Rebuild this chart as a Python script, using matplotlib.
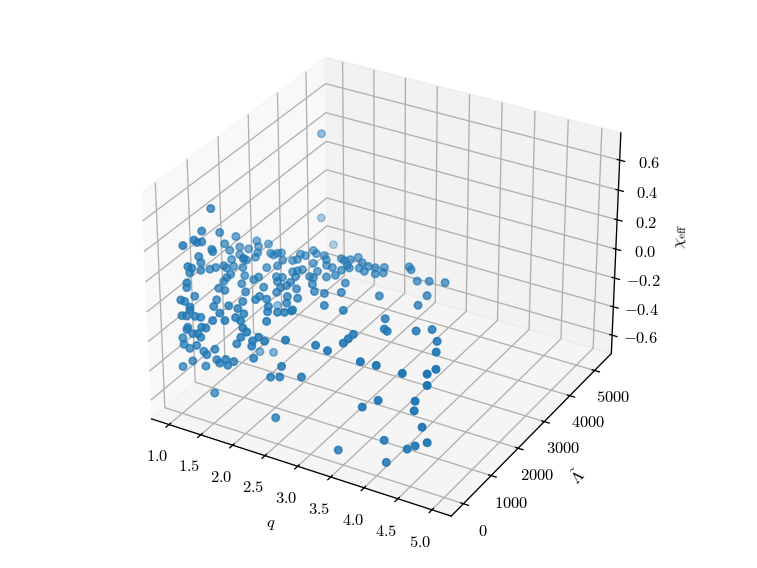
import numpy as np
import matplotlib
matplotlib.use("Agg")
import matplotlib.pyplot as plt
from matplotlib.ticker import FormatStrFormatter

q_ticks = [1.0, 1.5, 2.0, 2.5, 3.0, 3.5, 4.0, 4.5, 5.0]
lam_ticks = [0, 1000, 2000, 3000, 4000, 5000]
chi_ticks = [-0.6, -0.4, -0.2, 0.0, 0.2, 0.4, 0.6]

q = [1,1,1,1,1,1,1,1,1,1,1,1,1,1,1,1.06,1.06,1.14,1.18,1.14,1,1.06,1.12,1,1,1,1,1,1,1,1,1,1,1.06,1.18,1.46,1.56,1.54,1.30,1.36,
     1.38,1.42,1.66,1.70,1.66,1.74,1.76,1.84,1.94,2.10,1.90,1.86,1.82,1.92,2.08,2.14,2.22,2.34,2.10,1.94,1.94,1.78,1.70,1.78,1.90,1.92,1.70,1.50,1.48,1.32,1.40,1.56,1.14,1.14,1.16,1.20,1.30,1,1,
     1,1.04,1,1,1.14,1.34,1.40,1.56,1.70,1.66,1.78,1.78,1.90,2.10,2.18,2.24,2.02,2.34,1.18,1.04,1.12,1.24,1.34,1.52,1.56,1.72,1.80,1.84,1.90,2.20,2.08,2.20,2.28,2.34,1.14,1.12,1.20,1.28,1.36,
     1.42,1.32,1.04,1.06,1.26,1.16,1.36,1.42,1.54,1.98,2.04,1.96,1.88,2.14,2.12,2.22,2.32,2.64,3.06,2.14,1.20,1.02,1.40,1.56,1.62,1.72,1.84,1.74,2.58,2.40,2.54,2.88,1.52,1.96,2.04,2.12,2.22,2.20,
     2.26,2.32,2.38,2.50,2.36,2.42,2.54,2.64,2.62,2.72,2.80,2.88,2.82,3.10,3.16,3.38,3.52,3.72,3.68,3.70,3.14,2.58,2.66,2.48,2.64,2.92,3.50,3.62,3.68,4.00,4.16,4.36,3.34,3.34,2.36,2.36,2.28,3.26,3.34,
     3.76,3.98,4.36,4.64,4.68,4.72,4.48,4.02,3.78,4.56,4.54,4.66,4.10,4.44,4.56,4.74,4.14,3.42,2.46,1.02,1.02,1.02,1.02,1.47,1.32]
lam = [1130,820,1390,1910,220,570,660,810,1120,1150,1540,1700,2030,2320,2600,2530,2020,2330,2170,2700,2020,2020,2000,1750,700,760,350,470,750,1040,1230,1490,1580,1690,1740,1950,2100,2320,2430,2400,
       2490,2540,2400,2480,2670,2670,2900,2830,2500,2290,2210,2130,2050,1930,2060,2060,1850,1650,1570,1720,1580,1790,1760,1620,1470,1290,1330,1590,1470,1510,1240,1030,1420,1290,1150,900,890,400,300,
       290,450,90,210,90,540,320,470,470,720,890,1020,1000,1260,1060,1300,800,910,10,30,20,40,20,30,180,10,190,370,140,350,640,710,770,870,0,10,30,30,0,
       10,40,30,20,20,0,40,10,30,40,40,10,40,10,20,40,20,20,90,30,0,40,10,40,10,0,10,20,0,20,20,0,20,2840,2730,2560,2540,2900,
       2870,2950,3090,2960,2750,2680,2760,2710,2900,2920,2730,2830,3010,3250,3180,2880,2980,3080,2520,2150,2090,2180,1860,1680,1320,1340,1460,1150,1110,1370,1550,1250,730,560,2540,2330,2200,40,390,
       10,40,40,230,440,40,930,10,20,10,30,20,30,30,20,10,10,10,30,4860,4820,5250,3220,2095,1950]
chi = [0.47,0.37,0.27,0.16,0.37,0.35,0.32,0.30,0.20,0.18,0.17,0.10,0.07,0.01,0.02,0,0,0,0,0,0.02,0,0,0.03,0.22,0.17,0.21,0.18,0.12,0.08,0.06,0.03,0,0,0,0,0,0,0,0,
       0,0,0,0,0,0,0,0,0,0,0,0,0,0,0,0,0,0,0,0,0,0,0,0,0,0,0,0,0,0,0,0,0,0,0,0,0,0.16,0.11,
       0.08,0,0.03,0,0,0,0,0,0,0,0,0,0,0,0,0,0,0,0,-0.06,-0.05,-0.04,-0.03,-0.03,0,0,0,0,0,0,0,0,0,0,-0.12,-0.14,-0.16,-0.15,-0.09,
       -0.09,-0.17,-0.21,-0.25,-0.23,-0.26,-0.26,-0.27,-0.22,-0.02,-0.04,-0.08,-0.14,-0.08,-0.12,-0.05,-0.06,-0.01,0,-0.20,-0.34,-0.41,-0.35,-0.29,-0.30,-0.26,-0.26,-0.30,-0.19,-0.29,-0.27,-0.22,-0.52,0,0,0,0,0,
       0,0,0,0,0,0,0,0,0,0,0,0,0,0,0,0,0,0,0,0,0,0,0,0,0,0,0,0,0,0,0,0,0,0,0,0,0,0,0,
       0,0,0,0,0,-0.03,0,-0.22,-0.30,-0.15,-0.22,-0.31,-0.48,-0.49,-0.45,-0.40,-0.62,-0.64,-0.56,0.41,-0.17,-0.43,-0.53,-0.61,-0.60]

plt.rcParams['mathtext.fontset'] = 'cm'

fig = plt.figure(figsize=(757/118.3, 568/118.3), dpi=118.3)
ax = fig.add_axes([-0.001, 0, 1, 1], projection='3d')
ax.set_box_aspect((4, 4, 3), zoom=0.94)
ax.scatter(q, lam, chi)
ax.set_xlim(0.72, 5.28, view_margin=0)
ax.set_ylim(-430, 5690, view_margin=0)
ax.set_zlim(-0.73, 0.78, view_margin=0)
ax.set_xticks(q_ticks)
ax.set_yticks(lam_ticks)
ax.set_zticks(chi_ticks)
ax.xaxis.set_major_formatter(FormatStrFormatter('$%.1f$'))
ax.yaxis.set_major_formatter(FormatStrFormatter('$%d$'))
ax.zaxis.set_major_formatter(FormatStrFormatter('$%.1f$'))
ax.set_xlabel(r'$q$', labelpad=6)
ax.set_ylabel(r'$\tilde{\Lambda}$', labelpad=5)
ax.set_zlabel(r'$\chi_{\rm eff}$', labelpad=5)
fig.savefig('out.png', dpi=118.3)
